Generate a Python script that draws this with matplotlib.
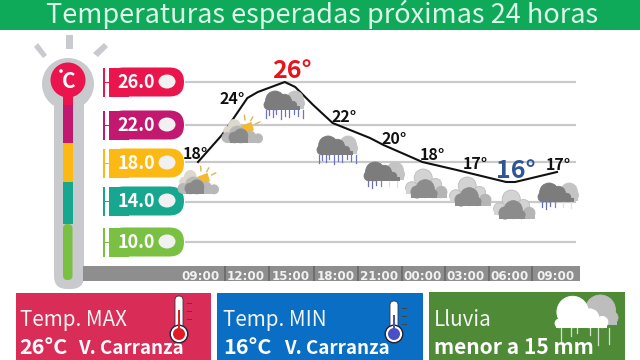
import matplotlib

matplotlib.use("Agg")
import matplotlib.pyplot as plt
from matplotlib.patches import Circle, Ellipse, FancyBboxPatch, Polygon, Rectangle

plt.rcParams["font.family"] = ["Noto Sans CJK SC", "DejaVu Sans"]

TITLE = "Temperaturas esperadas próximas 24 horas"

# curve, hours after 09:00
line_hours = [0, 1.6, 2.3, 3.3, 4, 5.8, 6.5, 7.7, 9, 11.5, 12.4, 15, 17.3, 20.6, 21.2, 24]
line_temps = [18, 20.7, 22.2, 24.4, 25, 26, 25.5, 23.7, 21.9, 20.4, 19.7, 18, 17.2, 16, 16, 17]

label_hours = [0, 3, 6, 9, 12, 15, 18, 21, 24]
label_temps = [18, 24, 26, 22, 20, 18, 17, 16, 17]
label_shift = [(-3, 8), (-11, 3), (4, 11), (11, 5), (17, 3), (10, 7), (8, 8), (4, 11), (1, 7)]

grid_temps = [26, 21.7, 18, 14, 10]
scale_labels = ["26.0", "22.0", "18.0", "14.0", "10.0"]
scale_colors = ["#E9154C", "#C2186F", "#FDB913", "#17A68F", "#7AC043"]

tick_hours = [0.2, 3.2, 6.2, 9.2, 12.1, 15, 17.9, 20.8, 23.9]
tick_labels = ["09:00", "12:00", "15:00", "18:00", "21:00", "00:00", "03:00", "06:00", "09:00"]

icon_kinds = ["sun", "sun", "rain", "rain", "drizzle", "cloud", "cloud", "cloud", "drizzle"]
icon_boxes = [(178, 168), (222, 117), (264, 91), (317, 136), (364, 162),
              (406, 169), (450, 177), (494, 190), (538, 183)]

GREEN = "#0FA95A"
GREY_TUBE = "#C8CACD"
GRID = "#C9C9C9"


def blob(ax, x0, y0, w, circles, base, color, edge=None):
    for cx, cy, r in circles:
        ax.add_patch(Circle((x0 + cx * w, y0 + cy * w), r * w, fc=color, ec=edge or color, lw=0.6))
    bx, by, bw = base
    bh = max(cy + r for cx, cy, r in circles) - by
    ax.add_patch(Rectangle((x0 + bx * w, y0 + by * w), bw * w, bh * w, fc=color, ec="none"))


def dark_cloud(ax, x, y, w, back="#C4C4C4", front="#7C7C7C"):
    blob(ax, x, y, w, [(0.76, 0.2, 0.2), (0.86, 0.3, 0.13)], (0.5, 0.3, 0.48), back)
    blob(ax, x, y, w, [(0.27, 0.23, 0.23), (0.5, 0.25, 0.17), (0.7, 0.35, 0.1), (0.12, 0.34, 0.12)],
         (0.1, 0.36, 0.78), front)


def draw_icon(ax, kind, x, y, w=41):
    if kind == "sun":
        ax.add_patch(Polygon([(x + 0.46 * w, y + 0.22 * w), (x + 0.72 * w, y + 0.12 * w), (x + 0.78 * w, y + 0.32 * w),
                              (x + 0.58 * w, y + 0.42 * w)], fc="#F4B92E", ec="none"))
        for a, b, c, d in [(0.55, -0.04, 0.56, 0.07), (0.75, 0.0, 0.7, 0.09), (0.92, 0.12, 0.82, 0.17)]:
            ax.plot([x + a * w, x + c * w], [y + b * w, y + d * w], color="#D9B65A", lw=1)
        blob(ax, x, y, w, [(0.3, 0.2, 0.14), (0.16, 0.34, 0.12)], (0.14, 0.3, 0.34), "#DDD8CC")
        blob(ax, x, y, w, [(0.12, 0.5, 0.12), (0.38, 0.42, 0.2), (0.68, 0.48, 0.14), (0.88, 0.52, 0.11)],
             (0.1, 0.5, 0.8), "#B8B8B8")
        blob(ax, x, y, w, [(0.3, 0.5, 0.13), (0.46, 0.46, 0.17)], (0.2, 0.5, 0.44), "#8A8A8A")
    elif kind == "cloud":
        blob(ax, x, y, w, [(0.42, 0.22, 0.22), (0.72, 0.38, 0.15), (0.14, 0.46, 0.15)], (0.0, 0.46, 0.86),
             "#D3D3D3", "#BDBDBD")
        blob(ax, x, y, w, [(0.86, 0.56, 0.14)], (0.66, 0.56, 0.34), "#B5B5B5")
        blob(ax, x, y, w, [(0.27, 0.56, 0.15), (0.47, 0.48, 0.22), (0.66, 0.6, 0.1)], (0.12, 0.56, 0.64), "#8C8C8C")
    else:
        dark_cloud(ax, x, y, w)
        if kind == "rain":
            drops = [0.05, 0.12, 0.22, 0.3, 0.42, 0.5, 0.6, 0.72, 0.84, 0.94]
            sizes = [0.2, 0.12, 0.18, 0.1, 0.22, 0.14, 0.18, 0.1, 0.16, 0.2]
            for dx, dl in zip(drops, sizes):
                ax.plot([x + dx * w] * 2, [y + 0.46 * w, y + (0.46 + dl) * w], color="#6C74C8", lw=0.9)
        else:
            for dx, dl, c in [(0.1, 0.12, "#6A6FB8"), (0.2, 0.18, "#6A6FB8"), (0.3, 0.1, "#6A6FB8"),
                              (0.42, 0.12, "#7C80C0"), (0.62, 0.12, "#E0E0E0"), (0.8, 0.16, "#E0E0E0")]:
                ax.plot([x + dx * w] * 2, [y + 0.46 * w, y + (0.46 + dl) * w], color=c, lw=0.9)


def draw_thermo(ax, x, top, bottom, fill):
    ax.add_patch(FancyBboxPatch((x - 4, top), 8, bottom - top, boxstyle="round,pad=0,rounding_size=4",
                                fc="white", ec="#333344", lw=0.6))
    ax.add_patch(Circle((x, bottom), 8.8, fc="white", ec="#222233", lw=1))
    ax.add_patch(Circle((x, bottom), 6, fc=fill, ec="none"))
    ax.add_patch(Rectangle((x - 1.2, top + 14), 2.4, bottom - top - 14, fc=fill, ec="none"))
    for dy in (5, 13, 21):
        ax.plot([x + 8, x + 12], [top + dy + 2] * 2, color="#444444", lw=0.7)


fig = plt.figure(figsize=(6.4, 3.6), dpi=100)
fig.patch.set_facecolor("white")

# everything that is not data sits on a full figure axes in pixel units
back = fig.add_axes([0, 0, 1, 1], zorder=1)
back.set_xlim(0, 640)
back.set_ylim(360, 0)
back.axis("off")

back.add_patch(Rectangle((0, 0), 640, 30, fc=GREEN, ec="none"))
back.text(322.5, 23, TITLE, color="#DDF6E8", fontsize=19.5, ha="center", va="baseline")

# thermometer
for pts in ([(34, 47), (38, 43), (47, 55), (43, 58)], [(66, 35), (73, 35), (73, 49), (66, 49)],
            [(104, 43), (108, 47), (98, 57), (93, 53)]):
    back.add_patch(Polygon(pts, fc=GREY_TUBE, ec="none"))
back.add_patch(FancyBboxPatch((54, 85), 30, 204, boxstyle="round,pad=0,rounding_size=13", fc=GREY_TUBE, ec="none"))
back.add_patch(Circle((68, 84), 26, fc=GREY_TUBE, ec="none"))
back.add_patch(Circle((68, 80), 17.5, fc=scale_colors[0], ec="none"))
for (y0, y1), color in zip([(92, 105), (105, 143), (143, 182), (182, 224)], scale_colors):
    back.add_patch(Rectangle((63, y0), 9.5, y1 - y0, fc=color, ec="none"))
back.add_patch(FancyBboxPatch((63, 224), 9.5, 56, boxstyle="round,pad=0,rounding_size=4.5",
                              fc=scale_colors[4], ec="none"))
back.text(69, 81, "C", color="white", fontsize=15, fontweight="bold", ha="center", va="center")
back.add_patch(Circle((61, 71), 1.8, fc="white", ec="none"))

# scale pills
for y, text, color in zip([82, 125, 163, 201, 242], scale_labels, scale_colors):
    back.add_patch(Rectangle((102.5, y - 14.5), 2.5, 29, fc=color, ec="none"))
    back.add_patch(Rectangle((105, y - 0.5), 5, 1, fc=color, ec="none"))
    back.add_patch(FancyBboxPatch((109, y - 14.5), 75, 29, boxstyle="round,pad=0,rounding_size=14.5",
                                  fc=color, ec="none"))
    back.add_patch(Rectangle((109, y - 14.5), 20, 29, fc=color, ec="none"))
    back.add_patch(Ellipse((167, y - 0.5), 17, 14, fc="#F1F1F1", ec="none"))
    back.text(136, y + 0.5, text, color="white", fontsize=13, fontweight="bold", ha="center", va="center")

# time bar
back.add_patch(Rectangle((83, 266), 497, 15, fc="#8E8E8E", ec="none"))
for x in (224, 268, 313, 357, 401, 444, 488, 531):
    back.add_patch(Rectangle((x, 266), 1.5, 15, fc="#6E6E6E", ec="none"))

# bottom boxes
back.add_patch(Rectangle((16, 293), 195, 67, fc="#D92D57", ec="none"))
back.add_patch(Rectangle((217, 293), 206, 67, fc="#0B6EC5", ec="none"))
back.add_patch(Rectangle((429, 292), 196, 68, fc="#4F8A37", ec="none"))
for x, title in [(20, "Temp. MAX"), (223, "Temp. MIN"), (434, "Lluvia")]:
    back.text(x, 320, title, color="#F4F4F4", fontsize=14.8, ha="left", va="center")
for x, y, text, size in [(19, 347, "26°C", 15.5), (223, 347, "16°C", 15.5), (78, 348, "V. Carranza", 13.5),
                         (284, 348, "V. Carranza", 13.5), (434, 347, "menor a 15 mm", 15.1)]:
    back.text(x, y, text, color="white", fontsize=size, fontweight="bold", ha="left", va="center")

# temperature curve
ax = fig.add_axes([198 / 640, 1 - 242 / 360, 359 / 640, 160 / 360], zorder=2)
ax.patch.set_alpha(0)
ax.set_xlim(0, 24)
ax.set_ylim(10, 26)
for side in ax.spines.values():
    side.set_visible(False)
ax.hlines(grid_temps, -0.9, 25.3, color=GRID, lw=1.6, clip_on=False, zorder=1)
ax.plot(line_hours, line_temps, color="#111111", lw=1.5, clip_on=False, zorder=3)
ax.set_yticks([])
ax.set_xticks(tick_hours)
ax.set_xticklabels(tick_labels, color="#F2F2F2", fontsize=8.6, fontweight="bold", fontfamily=["DejaVu Sans"])
ax.tick_params(axis="x", length=0, pad=20.5)

for hour, temp, (dx, dy) in zip(label_hours, label_temps, label_shift):
    big = temp in (max(label_temps), min(label_temps))
    color = "#111111"
    if big:
        color = "#E8141C" if temp == max(label_temps) else "#2F5597"
    ax.annotate(f"{temp}°", (hour, temp), xytext=(dx * 0.72, dy * 0.72), textcoords="offset points",
                color=color, fontsize=18 if big else 11.5, fontweight="bold", ha="center", va="center",
                annotation_clip=False, zorder=4)

# icons go over the grid
top = fig.add_axes([0, 0, 1, 1], zorder=3)
top.set_xlim(0, 640)
top.set_ylim(360, 0)
top.axis("off")
for kind, (x, y) in zip(icon_kinds, icon_boxes):
    draw_icon(top, kind, x, y)

draw_thermo(top, 179, 296, 334, "#E01B24")
draw_thermo(top, 394, 301, 334, "#4A4FC4")

# rain cloud on the green box
blob(top, 555, 295, 63, [(0.72, 0.24, 0.24), (0.9, 0.36, 0.1)], (0.6, 0.3, 0.38), "#BDBDBD")
blob(top, 555, 295, 63, [(0.28, 0.27, 0.25), (0.55, 0.37, 0.15), (0.75, 0.43, 0.09), (0.07, 0.45, 0.07)],
     (0.02, 0.42, 0.8), "white")
for dx, y1 in [(0.1, 342), (0.25, 336), (0.35, 333), (0.56, 335), (0.68, 345), (0.85, 344)]:
    top.plot([555 + dx * 63] * 2, [328, y1], color="#D5E2CC", lw=0.9)

fig.savefig("out.png", dpi=100)
